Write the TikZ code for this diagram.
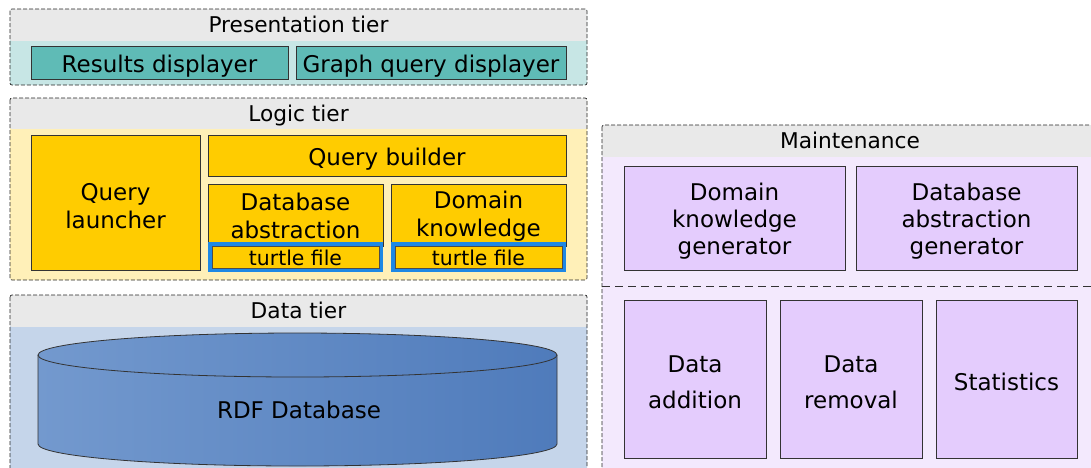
\documentclass[tikz,border=0pt]{standalone}
\usepackage{fontspec}
\setmainfont{DejaVu Sans}
\usetikzlibrary{positioning}

\definecolor{headgray}{HTML}{E9E9E9}
\definecolor{tealbody}{HTML}{C7E6E5}
\definecolor{tealblock}{HTML}{5FBBB6}
\definecolor{yellbody}{HTML}{FFF0B8}
\definecolor{yellblock}{HTML}{FFCC00}
\definecolor{turtleblue}{HTML}{1E88E5}
\definecolor{databody}{HTML}{C5D5EA}
\definecolor{dbleft}{HTML}{7399CE}
\definecolor{dbright}{HTML}{4F7BBB}
\definecolor{lavbody}{HTML}{F3E9FD}
\definecolor{lavblock}{HTML}{E4CCFD}

\newcommand\tierfnt{\fontsize{21.7}{26}\selectfont}
\newcommand\blkfnt{\fontsize{23}{28}\selectfont}
\newcommand\turtlefnt{\fontsize{20.4}{24}\selectfont}
% pushes a multi-line text a little down in its box
\newcommand\topgap[1][24pt]{\rule{0pt}{#1}}

\tikzset{
  tierline/.style={draw=black!85, dash pattern=on 4pt off 2pt, line width=0.7pt, rounded corners=2pt},
  tiername/.style={font=\tierfnt, inner sep=0pt, text height=20.4pt, text depth=5pt},
  block/.style={draw=black!80, line width=0.8pt, font=\blkfnt, align=center,
    inner sep=0pt, outer sep=0pt, execute at begin node={\rule{0pt}{24pt}}},
  teal block/.style={block, fill=tealblock},
  yell block/.style={block, fill=yellblock},
  lav block/.style={block, fill=lavblock},
  turtle/.style={draw=black!70, line width=0.6pt, fill=yellblock, font=\turtlefnt,
    minimum width=167pt, minimum height=18pt, inner sep=0pt, outer sep=0pt,
    text height=19pt, text depth=3pt,
    preaction={draw=turtleblue, line width=8pt}},
}

\begin{document}
\begin{tikzpicture}[x=1pt,y=-1pt]
  \useasboundingbox (0,0) rectangle (1091,467);
  \clip (0,0) rectangle (1091,467);

  % presentation tier
  \fill[tealbody, rounded corners=2pt] (10,9) rectangle (587,85);
  \fill[headgray, rounded corners=2pt] (10,9) rectangle (587,41);
  \fill[tealbody] (10,41) rectangle (587,50);
  \draw[tierline] (10,9) rectangle (587,85);
  \node[tiername] (prestitle) at (298.5,25) {Presentation tier};
  \node[teal block, minimum width=257pt, minimum height=33pt] (results) at (159.5,62.5) {Results displayer};
  \node[teal block, minimum width=270pt, minimum height=33pt] (graphq) at (431,62.5) {Graph query displayer};

  % logic tier
  \fill[yellbody, rounded corners=2pt] (10,98) rectangle (587,280);
  \fill[headgray, rounded corners=2pt] (10,98) rectangle (587,129);
  \fill[yellbody] (10,129) rectangle (587,140);
  \draw[tierline] (10,98) rectangle (587,280);
  \node[tiername] (logictitle) at (298.5,114) {Logic tier};
  \node[yell block, minimum width=169pt, minimum height=135pt] (launcher) at (115.5,202.5) {\topgap Query\\launcher};
  \node[yell block, minimum width=358pt, minimum height=41pt] (builder) at (387,155.5) {Query builder};
  \node[yell block, minimum width=175pt, minimum height=62pt] (dbabs) at (295.5,215) {\topgap[20pt]Database\\abstraction};
  \node[turtle] (dbturtle) at (295.5,257) {turtle file};
  \node[yell block, minimum width=175pt, minimum height=62pt] (domkn) at (478.5,215) {\topgap[20pt]Domain\\knowledge};
  \node[turtle] (dkturtle) at (478.5,257) {turtle file};

  % data tier
  \fill[databody, rounded corners=2pt] (10,295) rectangle (587,490);
  \fill[headgray, rounded corners=2pt] (10,295) rectangle (587,327);
  \fill[databody] (10,327) rectangle (587,340);
  \draw[tierline] (10,295) rectangle (587,490);
  \node[tiername] (datatitle) at (298.5,311) {Data tier};
  \shade[left color=dbleft, right color=dbright, draw=black!80, line width=0.8pt]
    (38,355) -- (38,444)
    arc[start angle=180, end angle=360, x radius=259.5pt, y radius=22pt]
    -- (557,355)
    arc[start angle=0, end angle=180, x radius=259.5pt, y radius=22pt] -- cycle;
  \draw[black!80, line width=0.8pt] (38,355)
    arc[start angle=180, end angle=360, x radius=259.5pt, y radius=22pt];
  \node[font=\blkfnt, inner sep=0pt, text height=20pt, text depth=5pt] (rdf) at (299,411) {RDF Database};

  % maintenance
  \fill[lavbody, rounded corners=2pt] (602,125) rectangle (1110,490);
  \fill[headgray, rounded corners=2pt] (602,125) rectangle (1110,157);
  \fill[lavbody] (602,157) rectangle (1110,170);
  \draw[tierline] (602,125) rectangle (1110,490);
  \node[tiername] (mainttitle) at (850,141) {Maintenance};
  \coordinate (sepl) at (602,286);
  \coordinate (sepr) at (1091,286);
  \draw[black!80, dash pattern=on 8pt off 5pt, line width=0.8pt] (sepl) -- (sepr);
  \node[lav block, minimum width=221pt, minimum height=104pt] (dkgen) at (734.5,218) {\topgap Domain\\[-1pt]knowledge\\[-1pt]generator};
  \node[lav block, minimum width=221pt, minimum height=104pt] (dbgen) at (966.5,218) {\topgap Database\\[-1pt]abstraction\\[-1pt]generator};
  \node[lav block, minimum width=142pt, minimum height=158pt] (addition) at (695,379) {\topgap Data\\[8pt]addition};
  \node[lav block, minimum width=142pt, minimum height=158pt] (removal) at (851,379) {\topgap Data\\[8pt]removal};
  \node[lav block, minimum width=141pt, minimum height=158pt] (stats) at (1006.5,379) {Statistics};
\end{tikzpicture}
\end{document}
